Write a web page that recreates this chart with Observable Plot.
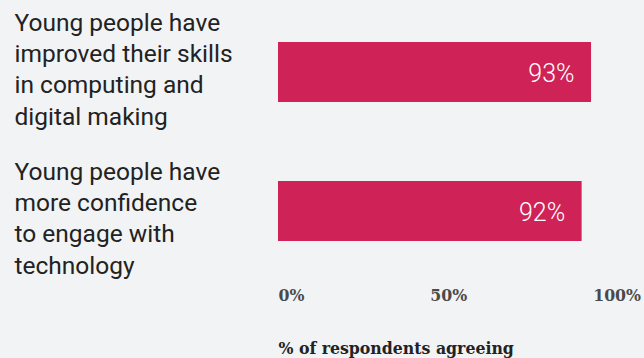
<!DOCTYPE html>
<html>
<head>
<meta charset="utf-8">
<script src="https://cdn.jsdelivr.net/npm/d3@7"></script>
<script src="https://cdn.jsdelivr.net/npm/@observablehq/plot@0.6"></script>
<style>
  html, body { margin: 0; padding: 0; background: #f2f3f5; }
  #chart svg { display: block; }
</style>
</head>
<body>
<div id="chart"></div>
<script>
const categories = [
  "Young people have\nimproved their skills\nin computing and\ndigital making",
  "Young people have\nmore confidence\nto engage with\ntechnology"
];
const barValues = [93, 90.2];
const valueLabels = ["93%", "92%"];
const tickValues = [0, 50, 100];
const tickLabels = ["0%", "50%", "100%"];
const axisTitle = "% of respondents agreeing";

const data = categories.map((c, i) => ({category: c, value: barValues[i], label: valueLabels[i], index: i}));
const ticks = tickValues.map((v, i) => ({value: v, label: tickLabels[i]}));

const slab = "'Roboto Slab', 'DejaVu Serif Condensed', 'DejaVu Serif', serif";
const labelFont = {frameAnchor: "left", dx: -264, textAnchor: "start", lineAnchor: "middle",
  lineHeight: 1.27, fontSize: 24.5, fill: "#222"};
const tickFont = {frameAnchor: "bottom", lineAnchor: "bottom", dy: 59, fontFamily: slab,
  fontWeight: "bold", fontSize: 17.5, fill: "#4a4a4a"};

const chart = Plot.plot({
  width: 644,
  height: 358,
  marginLeft: 278,
  marginRight: 29.4,
  marginTop: 41,
  marginBottom: 117,
  style: {background: "#f2f3f5", fontFamily: "Roboto, sans-serif", overflow: "visible"},
  x: {domain: [0, 100], axis: null},
  y: {domain: categories, axis: null, paddingInner: 0.5714, paddingOuter: 0},
  marks: [
    Plot.barX(data, {x: "value", y: "category", fill: "#cf2357"}),
    Plot.text(data, {x: "value", y: "category", text: "label", textAnchor: "end", dx: -17, dy: 1,
      fill: "white", fontSize: 25, fontWeight: 300}),
    Plot.text(data, {filter: d => d.index === 0, y: "category", text: "category", dy: -4.6, ...labelFont}),
    Plot.text(data, {filter: d => d.index === 1, y: "category", text: "category", dy: 5.4, ...labelFont}),
    Plot.text(ticks, {filter: d => d.value === 0, x: "value", text: "label", textAnchor: "start", ...tickFont}),
    Plot.text(ticks, {filter: d => d.value > 0, x: "value", text: "label", textAnchor: "middle", dx: 2, ...tickFont}),
    Plot.text([axisTitle], {text: d => d, frameAnchor: "bottom-left", textAnchor: "start",
      lineAnchor: "bottom", dy: 112, fontFamily: slab, fontWeight: "bold", fontSize: 17.5, fill: "#222"})
  ]
});
document.getElementById("chart").append(chart);
</script>
</body>
</html>
